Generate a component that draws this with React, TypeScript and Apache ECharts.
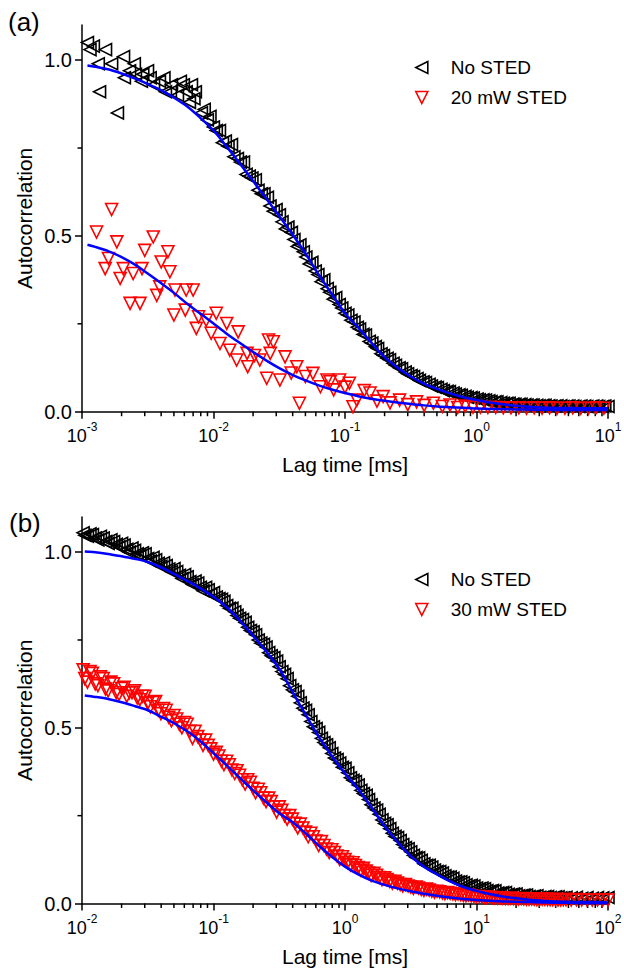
import React, { useEffect, useRef } from 'react';
import * as echarts from 'echarts';

// ---------- Panel (a) ----------
const lagA = [0.0011, 0.00122, 0.00136, 0.00151, 0.00168, 0.00186, 0.00207, 0.0023, 0.00255, 0.00283, 0.00315, 0.0035, 0.00388, 0.00431, 0.00479, 0.00532, 0.0059, 0.00656, 0.00728, 0.00809, 0.00898, 0.00998, 0.0111, 0.0123, 0.0137, 0.0152, 0.0169, 0.0187, 0.0208, 0.0231, 0.0257, 0.0285, 0.0317, 0.0352, 0.0391, 0.0434, 0.0482, 0.0535, 0.0594, 0.066, 0.0733, 0.0814, 0.0904, 0.1, 0.111, 0.124, 0.137, 0.153, 0.17, 0.188, 0.209, 0.232, 0.258, 0.287, 0.318, 0.353, 0.392, 0.436, 0.484, 0.537, 0.597, 0.663, 0.736, 0.817, 0.908, 1.01, 1.12, 1.24, 1.38, 1.53, 1.7, 1.89, 2.1, 2.33, 2.59, 2.87, 3.19, 3.54, 3.93, 4.37, 4.85, 5.39, 5.98, 6.64, 7.38, 8.19, 9.1, 10];
const noStedA = [1.05, 1.04, 0.91, 1.03, 0.99, 0.85, 1.01, 0.97, 0.96, 0.94, 0.97, 0.93, 0.94, 0.91, 0.93, 0.9, 0.93, 0.88, 0.91, 0.85, 0.83, 0.81, 0.8, 0.77, 0.76, 0.72, 0.71, 0.67, 0.66, 0.62, 0.61, 0.57, 0.56, 0.52, 0.51, 0.47, 0.455, 0.42, 0.4, 0.37, 0.35, 0.32, 0.305, 0.28, 0.26, 0.24, 0.22, 0.2, 0.185, 0.165, 0.152, 0.138, 0.125, 0.113, 0.103, 0.094, 0.085, 0.078, 0.07, 0.064, 0.058, 0.053, 0.048, 0.044, 0.04, 0.036, 0.034, 0.031, 0.028, 0.026, 0.024, 0.022, 0.021, 0.02, 0.019, 0.018, 0.018, 0.017, 0.016, 0.017, 0.016, 0.016, 0.015, 0.016, 0.015, 0.016, 0.015, 0.015];
// further "No STED" points of panel (a), read between the ones above
const lagA2 = [0.00115, 0.00133, 0.0021, 0.0025, 0.0029, 0.0033, 0.0042, 0.0047, 0.0056, 0.0062, 0.0068, 0.0071, 0.0085, 0.0094, 0.0105, 0.0117, 0.0129, 0.0143, 0.016, 0.0177, 0.0196, 0.0218, 0.0242, 0.0269, 0.0299, 0.0332, 0.0368, 0.0409, 0.0454, 0.0504, 0.056, 0.0622, 0.069, 0.0766, 0.085, 0.0945, 0.105, 0.117, 0.129, 0.143, 0.16, 0.177, 0.196, 0.218, 0.242, 0.269, 0.299, 0.332, 0.368, 0.409, 0.454, 0.504, 0.56, 0.622, 0.69, 0.766, 0.85, 0.945, 1.05, 1.17, 1.29, 1.43, 1.6, 1.77, 1.96, 2.18, 2.42, 2.69, 2.99, 3.32, 3.68, 4.09, 4.54, 5.04, 5.6, 6.22, 6.9, 7.66, 8.5, 9.45];
const noStedA2 = [1.03, 0.99, 0.95, 0.99, 0.96, 0.95, 0.95, 0.91, 0.94, 0.91, 0.93, 0.89, 0.86, 0.84, 0.8, 0.765, 0.755, 0.725, 0.71, 0.675, 0.665, 0.63, 0.62, 0.585, 0.575, 0.54, 0.525, 0.49, 0.475, 0.44, 0.425, 0.39, 0.375, 0.34, 0.325, 0.295, 0.275, 0.255, 0.235, 0.218, 0.195, 0.18, 0.16, 0.148, 0.132, 0.122, 0.108, 0.1, 0.089, 0.083, 0.073, 0.069, 0.06, 0.057, 0.05, 0.047, 0.041, 0.039, 0.034, 0.033, 0.029, 0.028, 0.024, 0.024, 0.021, 0.021, 0.019, 0.019, 0.017, 0.018, 0.016, 0.017, 0.015, 0.016, 0.015, 0.016, 0.015, 0.016, 0.015, 0.016];
const lagStedA = [0.00129, 0.0015, 0.00159, 0.00168, 0.00184, 0.00195, 0.00206, 0.00232, 0.00245, 0.00276, 0.00286, 0.003, 0.00348, 0.0037, 0.0039, 0.004, 0.0045, 0.00466, 0.005, 0.0051, 0.0061, 0.0062, 0.007, 0.0074, 0.0077, 0.0088, 0.0096, 0.0105, 0.0112, 0.0126, 0.0133, 0.015, 0.0154, 0.018, 0.0182, 0.0205, 0.0225, 0.0254, 0.0262, 0.027, 0.0285, 0.032, 0.035, 0.039, 0.043, 0.045, 0.05, 0.057, 0.065, 0.073, 0.077, 0.082, 0.091, 0.1, 0.108, 0.115, 0.123, 0.14, 0.155, 0.175, 0.195, 0.22, 0.26, 0.3, 0.35, 0.4, 0.47, 0.55, 0.63, 0.72, 0.82, 0.94, 1.07, 1.22, 1.4, 1.6, 1.83, 2.1, 2.4, 2.75, 3.15, 3.6, 4.1, 4.7, 5.4, 6.2, 7.1, 8.1, 9.3];
const stedA = [0.511, 0.407, 0.436, 0.575, 0.483, 0.379, 0.407, 0.308, 0.393, 0.308, 0.407, 0.459, 0.497, 0.331, 0.355, 0.426, 0.455, 0.398, 0.275, 0.346, 0.289, 0.346, 0.346, 0.237, 0.27, 0.26, 0.223, 0.28, 0.194, 0.251, 0.175, 0.147, 0.227, 0.166, 0.128, 0.16, 0.147, 0.095, 0.204, 0.166, 0.199, 0.09, 0.156, 0.11, 0.128, 0.024, 0.1, 0.109, 0.071, 0.09, 0.085, 0.062, 0.09, 0.07, 0.081, 0.014, 0.033, 0.06, 0.053, 0.03, 0.043, 0.025, 0.033, 0.02, 0.028, 0.018, 0.024, 0.015, 0.019, 0.012, 0.016, 0.013, 0.013, 0.012, 0.012, 0.011, 0.011, 0.011, 0.01, 0.011, 0.01, 0.011, 0.01, 0.01, 0.011, 0.01, 0.01, 0.011, 0.01];
const fitLagA = [0.0011, 0.00126, 0.00158, 0.002, 0.00251, 0.00316, 0.00398, 0.00501, 0.00631, 0.00794, 0.01, 0.0126, 0.0158, 0.02, 0.0251, 0.0316, 0.0398, 0.0501, 0.0631, 0.0794, 0.1, 0.126, 0.158, 0.2, 0.251, 0.316, 0.398, 0.501, 0.631, 0.794, 1, 1.26, 1.58, 2, 2.51, 3.16, 3.98, 5.01, 6.31, 7.94, 10];
const fitNoStedA = [0.985, 0.981, 0.974, 0.962, 0.948, 0.932, 0.915, 0.893, 0.868, 0.836, 0.8, 0.754, 0.707, 0.656, 0.607, 0.557, 0.505, 0.45, 0.39, 0.335, 0.28, 0.24, 0.197, 0.155, 0.125, 0.1, 0.08, 0.065, 0.052, 0.041, 0.033, 0.026, 0.021, 0.017, 0.014, 0.012, 0.011, 0.0105, 0.01, 0.01, 0.01];
const fitStedA = [0.475, 0.469, 0.457, 0.44, 0.419, 0.393, 0.366, 0.338, 0.307, 0.279, 0.251, 0.222, 0.196, 0.17, 0.146, 0.124, 0.105, 0.089, 0.075, 0.063, 0.053, 0.044, 0.037, 0.031, 0.026, 0.022, 0.018, 0.015, 0.013, 0.011, 0.009, 0.008, 0.007, 0.0065, 0.006, 0.0055, 0.005, 0.005, 0.005, 0.005, 0.005];

// ---------- Panel (b) ----------
const lagB = [0.0102, 0.011, 0.012, 0.0132, 0.0145, 0.0158, 0.0174, 0.0191, 0.0209, 0.0229, 0.0251, 0.0275, 0.0302, 0.0331, 0.0363, 0.0398, 0.0437, 0.0479, 0.0525, 0.0575, 0.0631, 0.0692, 0.0759, 0.0832, 0.0912, 0.1, 0.11, 0.12, 0.132, 0.145, 0.158, 0.174, 0.191, 0.209, 0.229, 0.251, 0.275, 0.302, 0.331, 0.363, 0.398, 0.437, 0.479, 0.525, 0.575, 0.631, 0.692, 0.759, 0.832, 0.912, 1.0, 1.1, 1.2, 1.32, 1.45, 1.58, 1.74, 1.91, 2.09, 2.29, 2.51, 2.75, 3.02, 3.31, 3.63, 3.98, 4.37, 4.79, 5.25, 5.75, 6.31, 6.92, 7.59, 8.32, 9.12, 10, 11, 12, 13.2, 14.5, 15.8, 17.4, 19.1, 20.9, 22.9, 25.1, 27.5, 30.2, 33.1, 36.3, 39.8, 43.7, 47.9, 52.5, 57.5, 63.1, 69.2, 75.9, 83.2, 91.2, 100];
const noStedB = [1.055, 1.045, 1.05, 1.035, 1.04, 1.025, 1.03, 1.015, 1.02, 1.0, 1.005, 0.99, 0.995, 0.975, 0.978, 0.96, 0.962, 0.944, 0.945, 0.925, 0.93, 0.908, 0.912, 0.89, 0.893, 0.885, 0.868, 0.86, 0.84, 0.83, 0.812, 0.8, 0.777, 0.765, 0.741, 0.73, 0.705, 0.69, 0.66, 0.64, 0.608, 0.59, 0.556, 0.537, 0.503, 0.487, 0.458, 0.443, 0.414, 0.4, 0.385, 0.358, 0.347, 0.322, 0.308, 0.281, 0.266, 0.238, 0.224, 0.2, 0.188, 0.168, 0.156, 0.137, 0.13, 0.113, 0.109, 0.095, 0.091, 0.079, 0.075, 0.064, 0.062, 0.053, 0.052, 0.044, 0.044, 0.037, 0.037, 0.03, 0.031, 0.026, 0.027, 0.022, 0.024, 0.02, 0.021, 0.018, 0.02, 0.017, 0.019, 0.016, 0.018, 0.016, 0.018, 0.015, 0.017, 0.015, 0.017, 0.016, 0.017];
const stedB = [0.665, 0.63, 0.655, 0.62, 0.64, 0.605, 0.625, 0.595, 0.615, 0.6, 0.605, 0.58, 0.59, 0.56, 0.575, 0.54, 0.55, 0.52, 0.525, 0.5, 0.51, 0.47, 0.475, 0.45, 0.45, 0.425, 0.42, 0.395, 0.395, 0.37, 0.365, 0.34, 0.345, 0.315, 0.315, 0.29, 0.29, 0.26, 0.265, 0.24, 0.24, 0.215, 0.215, 0.19, 0.19, 0.165, 0.165, 0.145, 0.145, 0.125, 0.125, 0.11, 0.108, 0.095, 0.092, 0.08, 0.08, 0.068, 0.068, 0.058, 0.058, 0.05, 0.05, 0.043, 0.044, 0.037, 0.038, 0.032, 0.033, 0.028, 0.029, 0.025, 0.025, 0.022, 0.022, 0.019, 0.019, 0.017, 0.017, 0.015, 0.015, 0.014, 0.014, 0.013, 0.013, 0.012, 0.012, 0.011, 0.012, 0.011, 0.011, 0.01, 0.011, 0.01, 0.011, 0.01, 0.01, 0.01, 0.01, 0.01, 0.01];
// further points of panel (b), read between the ones above
const lagB2 = [0.0105, 0.0115, 0.0126, 0.0138, 0.0151, 0.0166, 0.0182, 0.02, 0.0219, 0.024, 0.0263, 0.0288, 0.0316, 0.0347, 0.038, 0.0417, 0.0457, 0.0501, 0.055, 0.0603, 0.0661, 0.0724, 0.0794, 0.0871, 0.0955, 0.105, 0.115, 0.126, 0.138, 0.151, 0.166, 0.182, 0.2, 0.219, 0.24, 0.263, 0.288, 0.316, 0.347, 0.38, 0.417, 0.457, 0.501, 0.55, 0.603, 0.661, 0.724, 0.794, 0.871, 0.955, 1.05, 1.15, 1.26, 1.38, 1.51, 1.66, 1.82, 2.0, 2.19, 2.4, 2.63, 2.88, 3.16, 3.47, 3.8, 4.17, 4.57, 5.01, 5.5, 6.03, 6.61, 7.24, 7.94, 8.71, 9.55, 10.5, 11.5, 12.6, 13.8, 15.1, 16.6, 18.2, 20, 21.9, 24, 26.3, 28.8, 31.6, 34.7, 38, 41.7, 45.7];
const noStedB2 = [1.048, 1.052, 1.04, 1.045, 1.03, 1.035, 1.022, 1.025, 1.008, 1.012, 0.995, 0.998, 0.982, 0.985, 0.968, 0.97, 0.952, 0.953, 0.934, 0.936, 0.916, 0.918, 0.9, 0.9, 0.88, 0.872, 0.866, 0.848, 0.84, 0.82, 0.808, 0.786, 0.773, 0.75, 0.738, 0.714, 0.7, 0.674, 0.652, 0.62, 0.603, 0.571, 0.55, 0.518, 0.498, 0.47, 0.452, 0.427, 0.41, 0.388, 0.372, 0.351, 0.337, 0.313, 0.296, 0.272, 0.254, 0.228, 0.213, 0.191, 0.179, 0.159, 0.147, 0.131, 0.123, 0.109, 0.104, 0.091, 0.087, 0.075, 0.072, 0.061, 0.059, 0.05, 0.05, 0.042, 0.042, 0.035, 0.036, 0.029, 0.031, 0.025, 0.027, 0.022, 0.024, 0.019, 0.022, 0.017, 0.02, 0.016, 0.019, 0.016];
const stedB2 = [0.64, 0.66, 0.625, 0.645, 0.61, 0.63, 0.6, 0.612, 0.59, 0.6, 0.585, 0.59, 0.57, 0.572, 0.55, 0.555, 0.53, 0.535, 0.51, 0.515, 0.49, 0.49, 0.465, 0.465, 0.44, 0.43, 0.405, 0.405, 0.38, 0.378, 0.352, 0.352, 0.328, 0.325, 0.3, 0.3, 0.275, 0.275, 0.25, 0.25, 0.228, 0.226, 0.203, 0.2, 0.178, 0.176, 0.155, 0.153, 0.135, 0.133, 0.117, 0.116, 0.102, 0.1, 0.087, 0.086, 0.074, 0.073, 0.063, 0.063, 0.054, 0.054, 0.047, 0.047, 0.04, 0.041, 0.035, 0.035, 0.03, 0.031, 0.027, 0.027, 0.023, 0.024, 0.02, 0.02, 0.018, 0.018, 0.016, 0.016, 0.014, 0.015, 0.013, 0.014, 0.012, 0.013, 0.011, 0.012, 0.011, 0.011, 0.01, 0.011];
const fitLagB = [0.0105, 0.0126, 0.0158, 0.02, 0.0251, 0.0316, 0.0398, 0.0501, 0.0631, 0.0794, 0.1, 0.126, 0.158, 0.2, 0.251, 0.316, 0.398, 0.501, 0.631, 0.794, 1, 1.26, 1.58, 2, 2.51, 3.16, 3.98, 5.01, 6.31, 7.94, 10, 12.6, 15.8, 20, 25.1, 31.6, 39.8, 50.1, 63.1, 79.4, 100];
const fitNoStedB = [1.002, 1.0, 0.995, 0.988, 0.981, 0.972, 0.957, 0.938, 0.918, 0.897, 0.873, 0.843, 0.806, 0.762, 0.718, 0.668, 0.603, 0.538, 0.475, 0.42, 0.37, 0.325, 0.275, 0.22, 0.175, 0.135, 0.105, 0.083, 0.063, 0.047, 0.036, 0.027, 0.02, 0.015, 0.011, 0.008, 0.006, 0.005, 0.004, 0.004, 0.003];
const fitStedB = [0.592, 0.588, 0.582, 0.573, 0.562, 0.55, 0.532, 0.513, 0.49, 0.462, 0.428, 0.393, 0.358, 0.322, 0.289, 0.257, 0.232, 0.2, 0.165, 0.133, 0.105, 0.083, 0.066, 0.053, 0.043, 0.035, 0.028, 0.022, 0.017, 0.013, 0.01, 0.008, 0.006, 0.005, 0.004, 0.003, 0.002, 0.002, 0.001, 0.001, 0.001];

// ---------- Axis ticks ----------
const yTicks = [0, 0.5, 1.0];
const yMinorTicks = [0.25, 0.75];
const minorMultipliers = [2, 3, 4, 5, 6, 7, 8, 9];
const decadesA = [0.001, 0.01, 0.1, 1];
const decadesB = [0.01, 0.1, 1, 10];

const FONT = '"Liberation Sans", Arial, Helvetica, sans-serif';
const BLUE = '#0000ff';
const RED = '#ff0000';
// legend icons: left-pointing and down-pointing hollow triangles
const ICON_LEFT = 'path://M10,0L0,5L10,10Z';
const ICON_DOWN = 'path://M0,0L10,0L5,10Z';

const pairs = (xs: number[], ys: number[]) => xs.map((x, i) => [x, ys[i]]);
const minorOf = (decades: number[]) => {
  const out: number[][] = [];
  decades.forEach((d) => minorMultipliers.forEach((m) => out.push([d * m, 0])));
  return out;
};

function xAxis(gridIndex: number, min: number, max: number) {
  return {
    type: 'log',
    logBase: 10,
    gridIndex,
    min,
    max,
    axisLine: { show: true, onZero: false, lineStyle: { color: '#000', width: 1.5 } },
    axisTick: { show: true, length: 7, inside: false, lineStyle: { color: '#000', width: 1.5 } },
    minorTick: { show: false },
    splitLine: { show: false },
    axisLabel: {
      margin: 9,
      formatter: (v: number) => `{b|10}{s|${Math.round(Math.log10(v))}}`,
      rich: {
        b: { fontSize: 18, fontFamily: FONT, color: '#000', lineHeight: 24, verticalAlign: 'bottom' },
        s: { fontSize: 12, fontFamily: FONT, color: '#000', lineHeight: 12, verticalAlign: 'top' },
      },
    },
    name: 'Lag time [ms]',
    nameLocation: 'middle',
    nameGap: 42,
    nameMoveOverlap: false,
    nameTextStyle: { fontSize: 21, fontFamily: FONT, color: '#000' },
  };
}

function yAxis(gridIndex: number) {
  return {
    type: 'value',
    gridIndex,
    min: 0,
    max: 1.1,
    axisLine: { show: true, onZero: false, lineStyle: { color: '#000', width: 1.5 } },
    axisTick: { show: true, length: 7, inside: false, customValues: yTicks, lineStyle: { color: '#000', width: 1.5 } },
    splitLine: { show: false },
    axisLabel: {
      customValues: yTicks,
      formatter: (v: number) => v.toFixed(1),
      fontSize: 20,
      fontFamily: FONT,
      color: '#000',
      margin: 10,
    },
    name: 'Autocorrelation',
    nameLocation: 'middle',
    nameGap: 47,
    nameMoveOverlap: false,
    nameTextStyle: { fontSize: 21, fontFamily: FONT, color: '#000' },
  };
}

function scatter(name: string, idx: number, data: number[][], color: string, rotate: number) {
  return {
    type: 'scatter',
    name,
    xAxisIndex: idx,
    yAxisIndex: idx,
    data,
    symbol: 'triangle',
    symbolRotate: rotate,
    symbolSize: 12,
    clip: false,
    silent: true,
    z: 2,
    itemStyle: { color: 'rgba(0,0,0,0)', borderColor: color, borderWidth: 1.6, opacity: 1 },
  };
}

function fit(idx: number, data: number[][]) {
  return {
    type: 'line',
    xAxisIndex: idx,
    yAxisIndex: idx,
    data,
    symbol: 'none',
    showSymbol: false,
    smooth: 0.3,
    silent: true,
    z: 3,
    lineStyle: { color: BLUE, width: 2.5 },
  };
}

function xMinor(idx: number, data: number[][]) {
  return {
    type: 'custom',
    xAxisIndex: idx,
    yAxisIndex: idx,
    silent: true,
    clip: false,
    z: 1,
    data,
    renderItem: (_p: any, api: any) => {
      const p = api.coord([api.value(0), api.value(1)]);
      return {
        type: 'line',
        shape: { x1: p[0], y1: p[1], x2: p[0], y2: p[1] + 4.5 },
        style: { stroke: '#000', lineWidth: 1.5 },
      };
    },
  };
}

function yMinor(idx: number, xmin: number) {
  return {
    type: 'custom',
    xAxisIndex: idx,
    yAxisIndex: idx,
    silent: true,
    clip: false,
    z: 1,
    data: yMinorTicks.map((v) => [xmin, v]),
    renderItem: (_p: any, api: any) => {
      const p = api.coord([api.value(0), api.value(1)]);
      return {
        type: 'line',
        shape: { x1: p[0], y1: p[1], x2: p[0] - 4.5, y2: p[1] },
        style: { stroke: '#000', lineWidth: 1.5 },
      };
    },
  };
}

function legend(items: string[], top: number) {
  return {
    data: [
      { name: items[0], icon: ICON_LEFT, itemStyle: { color: 'rgba(0,0,0,0)', borderColor: '#000', borderWidth: 1.6 } },
      { name: items[1], icon: ICON_DOWN, itemStyle: { color: 'rgba(0,0,0,0)', borderColor: RED, borderWidth: 1.6 } },
    ],
    orient: 'vertical',
    left: 410,
    top,
    itemWidth: 12,
    itemHeight: 12,
    itemGap: 11,
    selectedMode: false,
    textStyle: { fontSize: 19, fontFamily: FONT, color: '#000', padding: [0, 0, 0, 18] },
  };
}

export default function App() {
  const ref = useRef<HTMLDivElement>(null);
  useEffect(() => {
    if (!ref.current) return;
    const chart = echarts.init(ref.current, undefined, { renderer: 'svg' });
    chart.setOption({
      animation: false,
      backgroundColor: '#fff',
      grid: [
        { left: 82, right: 16, top: 25, height: 386.7, containLabel: false, outerBoundsMode: 'none' },
        { left: 82, right: 16, top: 517, height: 386.5, containLabel: false, outerBoundsMode: 'none' },
      ],
      xAxis: [xAxis(0, 0.001, 10), xAxis(1, 0.01, 100)],
      yAxis: [yAxis(0), yAxis(1)],
      legend: [legend(['No STED', '20 mW STED'], 53), legend(['No STED', '30 mW STED'], 565)],
      graphic: [
        { type: 'text', left: 8, top: 9, style: { text: '(a)', fontSize: 26, fontFamily: FONT, fill: '#000' } },
        { type: 'text', left: 9, top: 510, style: { text: '(b)', fontSize: 26, fontFamily: FONT, fill: '#000' } },
      ],
      series: [
        xMinor(0, minorOf(decadesA)),
        yMinor(0, 0.001),
        xMinor(1, minorOf(decadesB)),
        yMinor(1, 0.01),
        scatter('No STED', 0, pairs(lagA, noStedA).concat(pairs(lagA2, noStedA2)), '#000', 90),
        scatter('20 mW STED', 0, pairs(lagStedA, stedA), RED, 180),
        fit(0, pairs(fitLagA, fitNoStedA)),
        fit(0, pairs(fitLagA, fitStedA)),
        scatter('No STED', 1, pairs(lagB, noStedB).concat(pairs(lagB2, noStedB2)), '#000', 90),
        scatter('30 mW STED', 1, pairs(lagB, stedB).concat(pairs(lagB2, stedB2)), RED, 180),
        fit(1, pairs(fitLagB, fitNoStedB)),
        fit(1, pairs(fitLagB, fitStedB)),
      ],
    });
    return () => chart.dispose();
  }, []);
  return <div ref={ref} style={{ position: 'absolute', left: 0, top: 0, width: 624, height: 969 }} />;
}
